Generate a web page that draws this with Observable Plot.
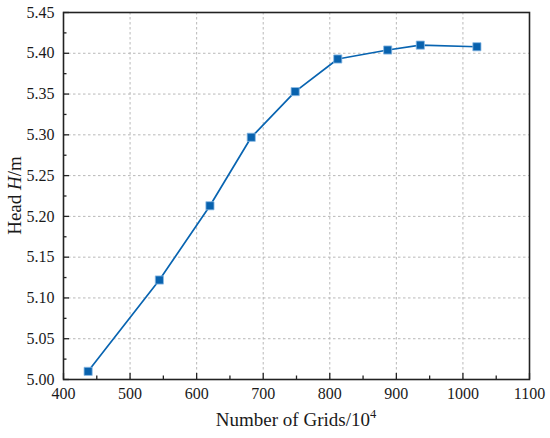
<!DOCTYPE html>
<html>
<head>
<meta charset="utf-8">
<script src="https://cdn.jsdelivr.net/npm/d3@7"></script>
<script src="https://cdn.jsdelivr.net/npm/@observablehq/plot@0.6"></script>
<style>
  html, body { margin: 0; padding: 0; background: #fff; }
  svg { display: block; }
</style>
</head>
<body>
<div id="chart"></div>
<script>
const grids = [437, 544, 620, 682, 748, 812, 887, 936, 1021];
const head = [5.010, 5.122, 5.213, 5.297, 5.353, 5.393, 5.404, 5.410, 5.408];
const xMajor = [400, 500, 600, 700, 800, 900, 1000, 1100];
const xMinor = [450, 550, 650, 750, 850, 950, 1050];
const yMajor = [5.00, 5.05, 5.10, 5.15, 5.20, 5.25, 5.30, 5.35, 5.40, 5.45];
const yMinor = [5.025, 5.075, 5.125, 5.175, 5.225, 5.275, 5.325, 5.375, 5.425];
const xGrid = [500, 600, 700, 800, 900, 1000];
const yGrid = [5.05, 5.10, 5.15, 5.20, 5.25, 5.30, 5.35, 5.40];

const W = 550, H = 438;
const mL = 63, mR = 21, mT = 12, mB = 59;
const pw = W - mL - mR, ph = H - mT - mB;
const data = grids.map((g, i) => ({ g, h: head[i] }));
const font = "'Liberation Serif', 'Times New Roman', serif";
const blue = "#0864b1";

const chart = Plot.plot({
  width: W, height: H,
  marginLeft: mL, marginRight: mR, marginTop: mT, marginBottom: mB,
  style: { fontFamily: font, fontSize: "16px", color: "#222", background: "#fff" },
  x: { domain: [400, 1100], axis: null, label: null },
  y: { domain: [5.0, 5.45], axis: null, label: null },
  marks: [
    Plot.ruleX(xGrid, { stroke: "#b8b8b8", strokeWidth: 1, strokeDasharray: "2.5,2.5" }),
    Plot.ruleY(yGrid, { stroke: "#b8b8b8", strokeWidth: 1, strokeDasharray: "2.5,2.5" }),
    Plot.tickX(xMajor, { x: d => d, insetTop: ph - 6, stroke: "#222", strokeWidth: 1.3 }),
    Plot.tickX(xMinor, { x: d => d, insetTop: ph - 3.5, stroke: "#222", strokeWidth: 1.3 }),
    Plot.tickY(yMajor, { y: d => d, insetRight: pw - 6, stroke: "#222", strokeWidth: 1.3 }),
    Plot.tickY(yMinor, { y: d => d, insetRight: pw - 3.5, stroke: "#222", strokeWidth: 1.3 }),
    Plot.axisX(xMajor, { tickSize: 0, tickPadding: 8, tickFormat: d => String(d), label: null, fontSize: 16, fontFamily: font, fill: "#1a1a1a" }),
    Plot.axisY(yMajor, { tickSize: 0, tickPadding: 9, tickFormat: d3.format(".2f"), label: null, fontSize: 16, fontFamily: font, fill: "#1a1a1a" }),
    Plot.line(data, { x: "g", y: "h", stroke: blue, strokeWidth: 1.7 }),
    Plot.dot(data, { x: "g", y: "h", symbol: "square", r: 4.6, fill: "#0862ae", stroke: "#8dbbe6", strokeWidth: 0.8 }),
    Plot.frame({ stroke: "#222", strokeWidth: 1.6 })
  ]
});

document.getElementById("chart").appendChild(chart);

const svg = d3.select(chart);
const xl = svg.append("text")
  .attr("x", mL + pw / 2)
  .attr("y", 426)
  .attr("text-anchor", "middle")
  .style("font-family", font)
  .style("font-size", "19px")
  .attr("fill", "#1a1a1a");
xl.append("tspan").text("Number of Grids/10");
xl.append("tspan").attr("dy", "-8").style("font-size", "12.5px").text("4");

const yl = svg.append("text")
  .attr("transform", `translate(21,${mT + ph / 2}) rotate(-90)`)
  .attr("text-anchor", "middle")
  .style("font-family", font)
  .style("font-size", "19px")
  .attr("fill", "#1a1a1a");
yl.append("tspan").text("Head ");
yl.append("tspan").style("font-style", "italic").text("H");
yl.append("tspan").text("/m");
</script>
</body>
</html>
